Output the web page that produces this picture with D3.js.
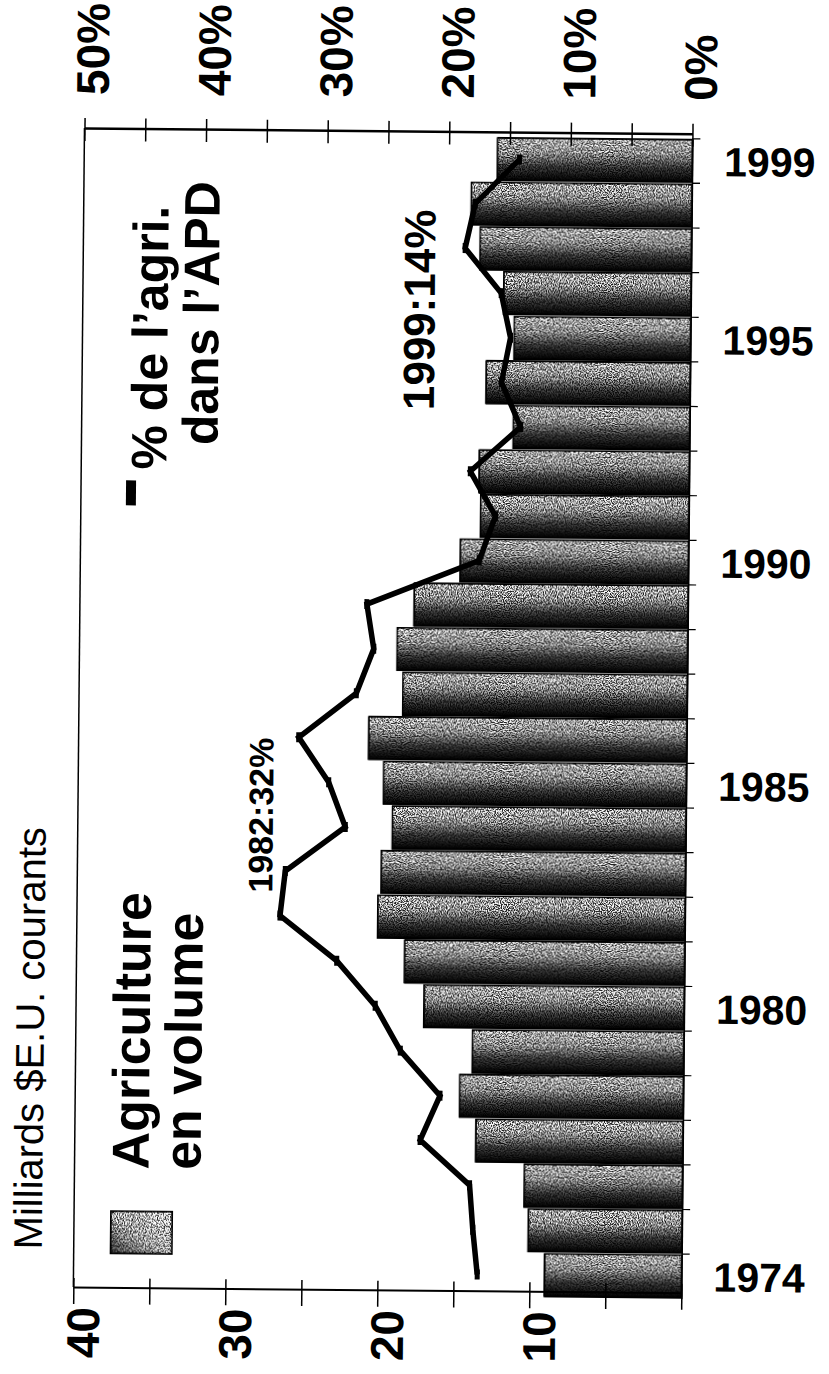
<!DOCTYPE html>
<html>
<head>
<meta charset="utf-8">
<script src="https://cdn.jsdelivr.net/npm/d3@7"></script>
<style>
    body { margin: 0; background: #fff; }
    svg { display: block; font-family: "Liberation Sans", Arial, sans-serif; }
</style>
</head>
<body>
<svg id="chart" width="829" height="1374"></svg>
<script>
// data
const years = d3.range( 1974, 2000 );
const volume = [ 9.0, 10.1, 10.4, 13.6, 14.7, 13.9, 17.1, 18.4, 20.2, 20.0, 19.3, 19.9, 20.9,
    18.7, 19.1, 18.0, 15.0, 13.7, 13.8, 11.6, 13.4, 11.6, 12.3, 13.9, 14.5, 12.8 ];
const share = [ 16.8, 17.2, 17.5, 21.6, 20.0, 23.3, 25.4, 28.6, 33.3, 32.9, 28.0, 29.4, 31.9,
    27.2, 25.8, 26.4, 17.2, 15.9, 18.0, 13.9, 15.5, 14.8, 15.6, 18.6, 17.8, 14.2 ];
const volumeTicks = d3.range( 0, 41, 5 );
const shareTicks = d3.range( 0, 51, 5 );
const yearLabels = [ 1974, 1980, 1985, 1990, 1995, 1999 ];

const rows = years.map( ( year, i ) => ( { year, volume: volume[ i ], share: share[ i ] } ) );

const plot = { left: 79, right: 687, top: 131, bottom: 1290 };

const svg = d3.select( '#chart' );
const defs = svg.append( 'defs' );

// bar shading: dark lower edge + grain like the scan
const barGrad = defs.append( 'linearGradient' )
    .attr( 'id', 'barGrad' ).attr( 'x1', 0 ).attr( 'y1', 0 ).attr( 'x2', 0 ).attr( 'y2', 1 );
[ [ 0, '#b4b4b4' ], [ 0.35, '#858585' ], [ 0.66, '#303030' ], [ 1, '#000' ] ]
    .forEach( ( [ o, c ] ) => barGrad.append( 'stop' ).attr( 'offset', o ).attr( 'stop-color', c ) );

const legGrad = defs.append( 'linearGradient' )
    .attr( 'id', 'legGrad' ).attr( 'x1', 1 ).attr( 'y1', 0 ).attr( 'x2', 0 ).attr( 'y2', 1 );
[ [ 0, '#e0e0e0' ], [ 0.5, '#b0b0b0' ], [ 1, '#303030' ] ]
    .forEach( ( [ o, c ] ) => legGrad.append( 'stop' ).attr( 'offset', o ).attr( 'stop-color', c ) );

const grain = defs.append( 'filter' ).attr( 'id', 'grain' )
    .attr( 'color-interpolation-filters', 'sRGB' );
grain.append( 'feTurbulence' ).attr( 'type', 'fractalNoise' ).attr( 'baseFrequency', 0.85 )
    .attr( 'numOctaves', 1 ).attr( 'seed', 7 ).attr( 'result', 'n' );
grain.append( 'feColorMatrix' ).attr( 'in', 'n' ).attr( 'type', 'matrix' )
    .attr( 'values', '1 0 0 0 0  1 0 0 0 0  1 0 0 0 0  0 0 0 0 1' ).attr( 'result', 'g' );
const ct = grain.append( 'feComponentTransfer' ).attr( 'in', 'g' ).attr( 'result', 'gc' );
[ 'feFuncR', 'feFuncG', 'feFuncB' ].forEach( f => ct.append( f )
    .attr( 'type', 'linear' ).attr( 'slope', 4 ).attr( 'intercept', -1.5 ) );
grain.append( 'feComposite' ).attr( 'in', 'SourceGraphic' ).attr( 'in2', 'gc' )
    .attr( 'operator', 'arithmetic' ).attr( 'k1', 1.7 ).attr( 'k2', 0.15 ).attr( 'k3', 0 ).attr( 'k4', 0 );

// the whole scan is a little tilted
const g = svg.append( 'g' ).attr( 'transform', 'rotate(0.55,400,700)' );

const xVal = d3.scaleLinear().domain( [ 0, 40 ] ).range( [ plot.right, plot.left ] );
const xPct = d3.scaleLinear().domain( [ 0, 50 ] ).range( [ plot.right, plot.left ] );
const y = d3.scaleBand().domain( years ).range( [ 1296, 136 ] )
    .paddingInner( 0.05 ).paddingOuter( 0.025 );
const gap = y.step() - y.bandwidth();

// bars
g.append( 'g' ).attr( 'class', 'bars' )
    .selectAll( 'rect' ).data( rows )
    .join( 'rect' )
    .attr( 'x', d => xVal( d.volume ) )
    .attr( 'y', d => y( d.year ) )
    .attr( 'width', d => xVal( 0 ) - xVal( d.volume ) )
    .attr( 'height', y.bandwidth() )
    .attr( 'fill', 'url(#barGrad)' )
    .attr( 'stroke', '#000' )
    .attr( 'stroke-width', 1.5 )
    .attr( 'filter', 'url(#grain)' );

// frame: left border
g.append( 'line' ).attr( 'x1', plot.left ).attr( 'x2', plot.left )
    .attr( 'y1', plot.top ).attr( 'y2', plot.bottom ).attr( 'stroke', '#000' ).attr( 'stroke-width', 1.5 );

// top axis (percent)
const topAxis = g.append( 'g' ).attr( 'transform', `translate(0,${plot.top})` )
    .call( d3.axisTop( xPct ).tickValues( shareTicks ).tickSizeOuter( 0 ).tickPadding( 0 )
        .tickFormat( d => d % 10 === 0 ? d + '%' : '' ) );
topAxis.attr( 'font-family', null );
topAxis.select( '.domain' ).attr( 'stroke-width', 2.5 );
topAxis.selectAll( '.tick line' ).attr( 'y1', -10 ).attr( 'y2', 13 ).attr( 'stroke-width', 1.5 );
topAxis.selectAll( '.tick text' )
    .attr( 'transform', 'rotate(-90)' )
    .attr( 'x', 33 ).attr( 'y', 7 ).attr( 'dy', '0.36em' )
    .attr( 'text-anchor', 'start' )
    .attr( 'font-size', 46 ).attr( 'font-weight', 'bold' );

// bottom axis (billions)
const botAxis = g.append( 'g' ).attr( 'transform', `translate(0,${plot.bottom})` )
    .call( d3.axisBottom( xVal ).tickValues( volumeTicks ).tickSizeOuter( 0 ).tickPadding( 0 )
        .tickFormat( d => d % 10 === 0 && d > 0 ? d : '' ) );
botAxis.attr( 'font-family', null );
botAxis.select( '.domain' ).attr( 'stroke-width', 2 );
botAxis.selectAll( '.tick line' ).attr( 'y1', -9 ).attr( 'y2', 17 ).attr( 'stroke-width', 1.5 );
botAxis.selectAll( '.tick text' )
    .attr( 'transform', 'rotate(-90)' )
    .attr( 'x', -20 ).attr( 'y', 9 ).attr( 'dy', '0.36em' )
    .attr( 'text-anchor', 'end' )
    .attr( 'font-size', 46 ).attr( 'font-weight', 'bold' );

// right axis (years)
const yearAxis = g.append( 'g' ).attr( 'transform', `translate(${plot.right},0)` )
    .call( d3.axisRight( y ).tickSize( 0 ).tickSizeOuter( 0 ).tickPadding( 32 )
        .tickFormat( d => yearLabels.includes( d ) ? d : '' ) );
yearAxis.attr( 'font-family', null );
yearAxis.select( '.domain' ).attr( 'stroke-width', 1.5 );
yearAxis.selectAll( '.tick text' )
    .attr( 'font-size', 41 ).attr( 'font-weight', 'bold' ).attr( 'dy', '0.36em' );
const bounds = years.map( yr => y( yr ) - gap / 2 ).concat( [ y( 1999 ) + y.bandwidth() + gap / 2 ] );
yearAxis.selectAll( '.bound' ).data( bounds )
    .join( 'line' ).attr( 'class', 'bound' )
    .attr( 'x1', 0 ).attr( 'x2', 8 ).attr( 'y1', d => d ).attr( 'y2', d => d )
    .attr( 'stroke', '#000' ).attr( 'stroke-width', 1.2 );

// share line
const cy = d => y( d.year ) + y.bandwidth() / 2;
const line = d3.line().x( d => xPct( d.share ) ).y( cy );
g.append( 'path' ).datum( rows )
    .attr( 'd', line )
    .attr( 'fill', 'none' )
    .attr( 'stroke', '#000' )
    .attr( 'stroke-width', 5.5 )
    .attr( 'stroke-linejoin', 'miter' );
g.append( 'g' ).selectAll( 'rect' ).data( rows )
    .join( 'rect' )
    .attr( 'x', d => xPct( d.share ) - 2.5 )
    .attr( 'y', d => cy( d ) - 5 )
    .attr( 'width', 5 ).attr( 'height', 10 )
    .attr( 'fill', '#000' );

// titles, legends, notes (all rotated like the page)
const rotText = ( x, yy, txt, size, weight ) => g.append( 'text' )
    .attr( 'transform', `translate(${x},${yy}) rotate(-90)` )
    .attr( 'font-size', size )
    .attr( 'font-weight', weight )
    .text( txt );

rotText( 47, 1253, 'Milliards $E.U. courants', 40, 'normal' );

g.append( 'rect' ).attr( 'x', 116 ).attr( 'y', 1214 ).attr( 'width', 61 ).attr( 'height', 42 )
    .attr( 'fill', 'url(#legGrad)' ).attr( 'stroke', '#000' ).attr( 'stroke-width', 1.5 )
    .attr( 'filter', 'url(#grain)' );
rotText( 153, 1172, 'Agriculture', 52, 'bold' );
rotText( 205, 1172, 'en volume', 52, 'bold' );

g.append( 'rect' ).attr( 'x', 124 ).attr( 'y', 483 ).attr( 'width', 10 ).attr( 'height', 25 )
    .attr( 'fill', '#000' );
rotText( 164, 472, '% de l\u2019agri.', 50, 'bold' );
rotText( 215, 447, 'dans l\u2019APD', 50, 'bold' );

rotText( 431, 410, '1999:14%', 44, 'bold' );
rotText( 274, 894, '1982:32%', 34, 'bold' );
</script>
</body>
</html>
